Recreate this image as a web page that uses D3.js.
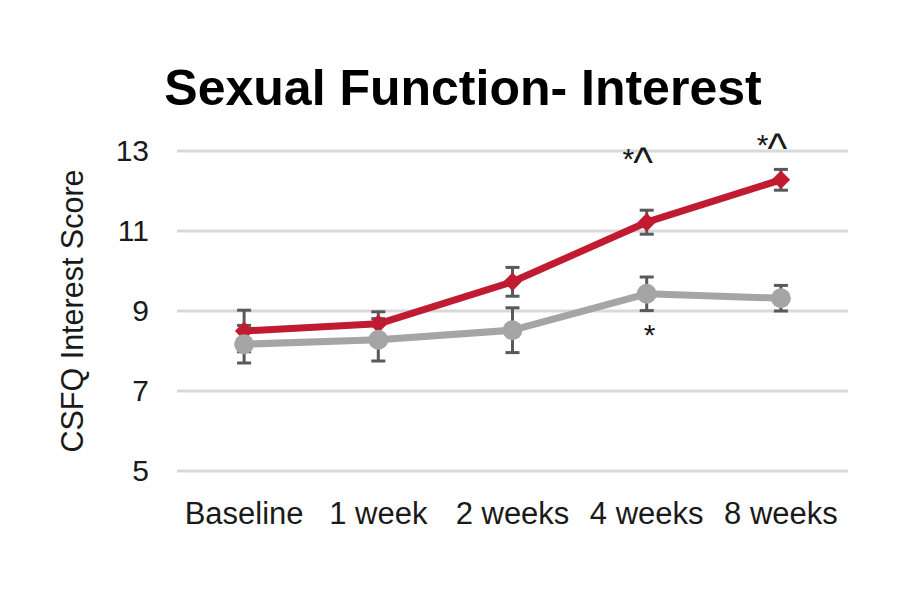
<!DOCTYPE html>
<html>
<head>
<meta charset="utf-8">
<script src="https://cdn.jsdelivr.net/npm/d3@7"></script>
<style>
  body { margin: 0; background: #fff; }
  text { font-family: "Liberation Sans", Arial, sans-serif; }
</style>
</head>
<body>
<script>
var categories = ["Baseline", "1 week", "2 weeks", "4 weeks", "8 weeks"];
var yTicks = [5, 7, 9, 11, 13];

var redValues = [8.5, 8.68, 9.73, 11.22, 12.28];
var redErrors = [0.52, 0.3, 0.36, 0.3, 0.26];
var grayValues = [8.17, 8.28, 8.52, 9.43, 9.32];
var grayErrors = [0.47, 0.53, 0.56, 0.42, 0.32];

// significance marks: category, text, value where the text sits
var marks = [
	{cat: "4 weeks", text: "*^", at: 12.54},
	{cat: "8 weeks", text: "*^", at: 12.91},
	{cat: "4 weeks", text: "*", at: 8.16}
];

(function(d3) {
	var width = 900, height = 600;
	var plotLeft = 177, plotRight = 848, plotTop = 151, plotBottom = 471;

	var svg = d3.select("body").append("svg")
		.attr("width", width)
		.attr("height", height);

	var x = d3.scaleBand().domain(categories).range([plotLeft, plotRight]);
	var y = d3.scaleLinear().domain([5, 13]).range([plotBottom, plotTop]);
	var cx = function(c) { return x(c) + x.bandwidth() / 2; };

	// title
	svg.append("text")
		.attr("x", 463)
		.attr("y", 105)
		.attr("text-anchor", "middle")
		.attr("font-size", "50px")
		.attr("font-weight", "bold")
		.attr("fill", "#000")
		.text("Sexual Function- Interest");

	// gridlines
	svg.append("g").selectAll("line")
		.data(yTicks)
		.enter().append("line")
		.attr("x1", plotLeft).attr("x2", plotRight)
		.attr("y1", function(d) { return y(d); })
		.attr("y2", function(d) { return y(d); })
		.attr("stroke", "#d9d9d9")
		.attr("stroke-width", 3);

	// y axis (labels only)
	var yAxis = svg.append("g")
		.attr("transform", "translate(" + (plotLeft - 28) + ",0)")
		.call(d3.axisLeft(y).tickValues(yTicks).tickSize(0).tickPadding(0));
	yAxis.select(".domain").remove();
	yAxis.selectAll("text")
		.attr("font-size", "30px")
		.attr("fill", "#1a1a1a")
		.style("font-family", "'Liberation Sans', Arial, sans-serif");

	// x axis (labels only)
	var xAxis = svg.append("g")
		.attr("transform", "translate(0," + (plotBottom + 31) + ")")
		.call(d3.axisBottom(x).tickSize(0).tickPadding(0));
	xAxis.select(".domain").remove();
	xAxis.selectAll("text")
		.attr("font-size", "31px")
		.attr("fill", "#1a1a1a")
		.style("font-family", "'Liberation Sans', Arial, sans-serif");

	// y label
	svg.append("text")
		.attr("transform", "translate(83,311) rotate(-90)")
		.attr("text-anchor", "middle")
		.attr("font-size", "30.5px")
		.attr("fill", "#1a1a1a")
		.text("CSFQ Interest Score");

	function drawErrors(values, errors) {
		var g = svg.append("g")
			.attr("stroke", "#595959")
			.attr("stroke-width", 3);
		values.forEach(function(v, i) {
			var xc = cx(categories[i]);
			g.append("line")
				.attr("x1", xc).attr("x2", xc)
				.attr("y1", y(v - errors[i])).attr("y2", y(v + errors[i]));
			[v - errors[i], v + errors[i]].forEach(function(e) {
				g.append("line")
					.attr("x1", xc - 7).attr("x2", xc + 7)
					.attr("y1", y(e)).attr("y2", y(e));
			});
		});
	}

	drawErrors(redValues, redErrors);
	drawErrors(grayValues, grayErrors);

	var line = d3.line()
		.x(function(d, i) { return cx(categories[i]); })
		.y(function(d) { return y(d); });

	function drawSeries(values, color, shape, size, rot) {
		svg.append("path")
			.datum(values)
			.attr("d", line)
			.attr("fill", "none")
			.attr("stroke", color)
			.attr("stroke-width", 7)
			.attr("stroke-linejoin", "round");
		svg.append("g").selectAll("path")
			.data(values)
			.enter().append("path")
			.attr("d", d3.symbol().type(shape).size(size))
			.attr("transform", function(d, i) {
				return "translate(" + cx(categories[i]) + "," + y(d) + ") rotate(" + rot + ")";
			})
			.attr("fill", color);
	}

	drawSeries(redValues, "#c01b30", d3.symbolSquare, 170, 45);
	drawSeries(grayValues, "#a5a5a5", d3.symbolCircle, 310, 0);

	// significance marks
	var mk = svg.append("g").selectAll("text")
		.data(marks)
		.enter().append("text")
		.attr("x", function(d) { return cx(d.cat) + (d.text.length > 1 ? -9 : 3); })
		.attr("y", function(d) { return y(d.at); })
		.attr("text-anchor", "middle")
		.attr("font-size", "30px")
		.attr("fill", "#1a1a1a");
	mk.append("tspan").text(function(d) { return d.text.charAt(0); });
	mk.filter(function(d) { return d.text.length > 1; })
		.append("tspan")
		.attr("font-size", "42px")
		.attr("dy", 8)
		.attr("dx", -1)
		.text(function(d) { return d.text.slice(1); });
})(d3);
</script>
</body>
</html>
